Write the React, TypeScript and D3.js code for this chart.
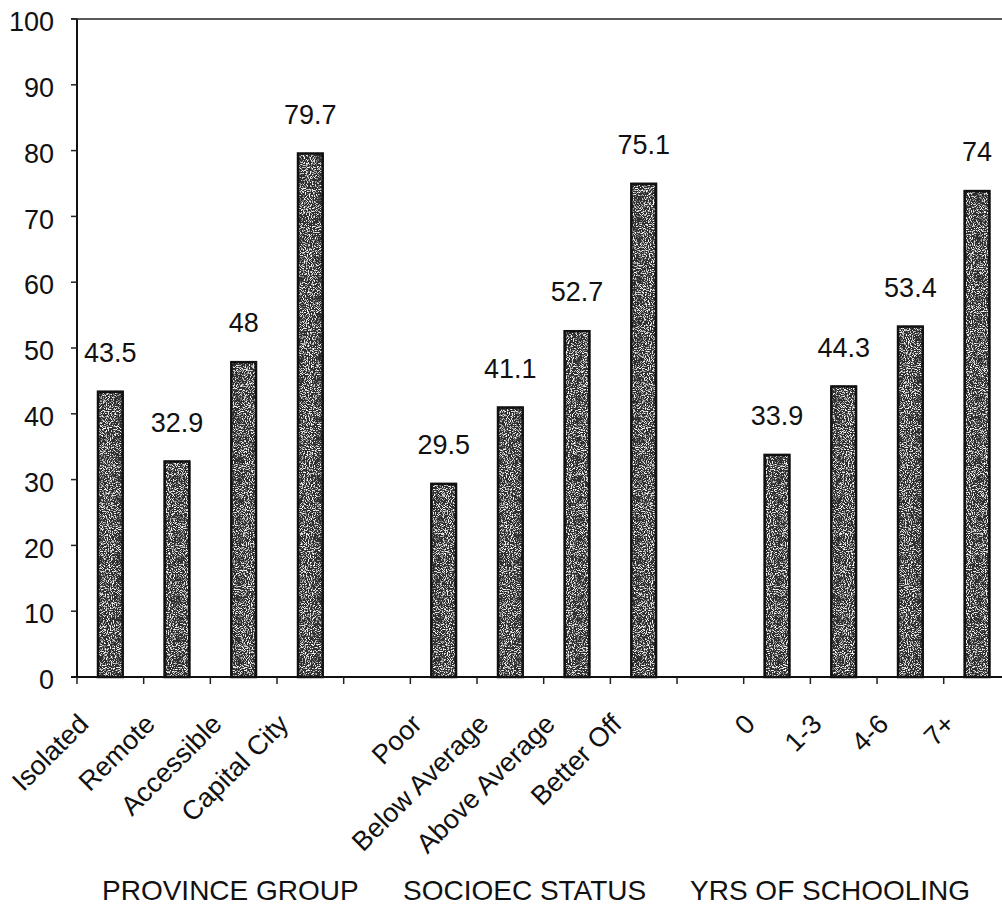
import React from "react";
import * as d3 from "d3";

// Slots along the category axis; empty keys are spacers between the three groups.
const slotKeys = [
  "Isolated", "Remote", "Accessible", "Capital City", "gap1",
  "Poor", "Below Average", "Above Average", "Better Off", "gap2",
  "0", "1-3", "4-6", "7+",
];
const categoryLabels = [
  "Isolated", "Remote", "Accessible", "Capital City", "",
  "Poor", "Below Average", "Above Average", "Better Off", "",
  "0", "1-3", "4-6", "7+",
];
const values: (number | null)[] = [
  43.5, 32.9, 48, 79.7, null,
  29.5, 41.1, 52.7, 75.1, null,
  33.9, 44.3, 53.4, 74,
];
const groupLabels = ["PROVINCE GROUP", "SOCIOEC STATUS", "YRS OF SCHOOLING"];
const yTicks = [0, 10, 20, 30, 40, 50, 60, 70, 80, 90, 100];

const W = 1002;
const H = 911;
const plot = { left: 77, top: 19, bottom: 677, step: 66.67 };
const FONT = "'Liberation Sans', Arial, Helvetica, sans-serif";

export default function App() {
  const x = d3
    .scaleBand<string>()
    .domain(slotKeys)
    .range([plot.left, plot.left + plot.step * slotKeys.length])
    .paddingInner(0)
    .paddingOuter(0);
  const y = d3.scaleLinear().domain([0, 100]).range([plot.bottom, plot.top]);

  const step = x.step();
  const barW = step * 0.4;
  const boundaries = d3.range(slotKeys.length + 1).map((i) => plot.left + i * step);
  const groupX = [102, 403, 690];

  return (
    <svg
      width={W}
      height={H}
      style={{ position: "absolute", left: 0, top: 0, background: "#fff" }}
      fontFamily={FONT}
    >
      <defs>
        <filter id="grain" x="0" y="0" width="1" height="1">
          <feTurbulence type="fractalNoise" baseFrequency="0.95" numOctaves="2" seed="7" result="noise" />
          <feColorMatrix
            in="noise"
            type="matrix"
            values="0 0 0 0 1  0 0 0 0 1  0 0 0 0 1  0 0 0 5 -2.55"
            result="dots"
          />
          <feComposite in="dots" in2="SourceGraphic" operator="in" result="speck" />
          <feMerge>
            <feMergeNode in="SourceGraphic" />
            <feMergeNode in="speck" />
          </feMerge>
        </filter>
      </defs>

      <rect width={W} height={H} fill="#fff" />

      {/* plot frame: top border */}
      <line x1={plot.left - 6} x2={W} y1={plot.top} y2={plot.top} stroke="#222" strokeWidth={1.6} />

      {/* bars */}
      {slotKeys.map((k, i) => {
        const v = values[i];
        if (v == null) return null;
        const cx = (x(k) as number) + step / 2;
        const top = y(v);
        return (
          <g key={k}>
            <rect
              x={cx - barW / 2}
              y={top}
              width={barW}
              height={plot.bottom - top}
              fill="#2e2e2e"
              filter="url(#grain)"
            />
            <rect
              x={cx - barW / 2 + 1}
              y={top + 1}
              width={barW - 2}
              height={plot.bottom - top - 1}
              fill="none"
              stroke="#111"
              strokeWidth={2.5}
            />
            <text x={cx} y={top - 29} textAnchor="middle" fontSize={27} fill="#111">
              {String(v)}
            </text>
          </g>
        );
      })}

      {/* y axis */}
      <line x1={plot.left} x2={plot.left} y1={plot.top} y2={plot.bottom} stroke="#111" strokeWidth={2} />
      {yTicks.map((t) => (
        <g key={t}>
          <line x1={plot.left - 6} x2={plot.left} y1={y(t)} y2={y(t)} stroke="#222" strokeWidth={1.5} />
          <text x={54} y={y(t)} dy="0.45em" textAnchor="end" fontSize={27} fill="#111">
            {t}
          </text>
        </g>
      ))}

      {/* x axis */}
      <line x1={plot.left - 6} x2={W} y1={plot.bottom} y2={plot.bottom} stroke="#111" strokeWidth={2} />
      {boundaries.map((bx, i) => (
        <line key={i} x1={bx} x2={bx} y1={plot.bottom} y2={plot.bottom + 7} stroke="#222" strokeWidth={1.5} />
      ))}

      {/* rotated category labels */}
      {slotKeys.map((k, i) => {
        const label = categoryLabels[i];
        if (!label) return null;
        const cx = (x(k) as number) + step / 2;
        const ax = cx - 27;
        const ay = 719;
        return (
          <text
            key={k}
            transform={`translate(${ax},${ay}) rotate(-45)`}
            textAnchor="end"
            dy="0.35em"
            fontSize={27}
            fill="#111"
          >
            {label}
          </text>
        );
      })}

      {/* group titles */}
      {groupLabels.map((g, i) => (
        <text key={g} x={groupX[i]} y={900} fontSize={28} fill="#111">
          {g}
        </text>
      ))}
    </svg>
  );
}
